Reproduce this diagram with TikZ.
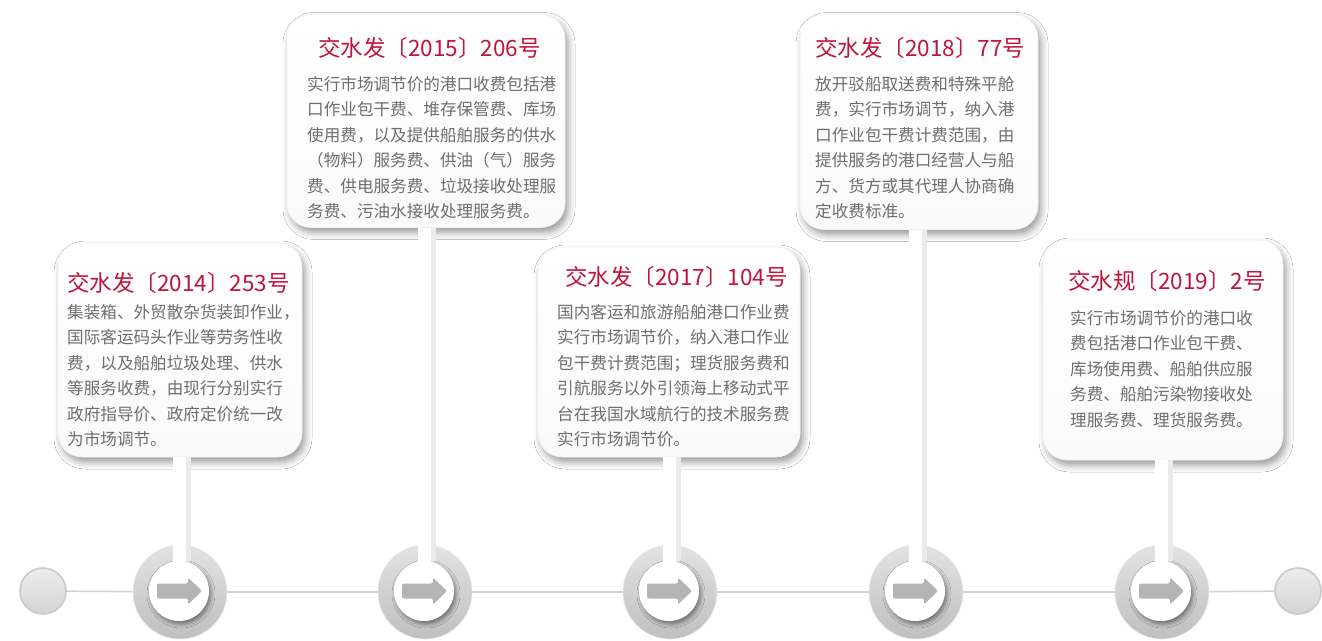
\documentclass[tikz,border=0pt]{standalone}
\usepackage{fontspec}
\setmainfont{Noto Sans CJK SC}
\usetikzlibrary{shadows.blur}
\definecolor{titlered}{HTML}{C0143C}
\definecolor{bodygray}{HTML}{6E6E6E}
\definecolor{arrowgray}{HTML}{B4B4B4}
\tikzset{
  card/.style={rectangle, rounded corners=24pt, top color=white, bottom color=gray!4, draw=gray!10, line width=0.6pt,
    blur shadow={shadow xshift=3pt, shadow yshift=-5pt, shadow blur radius=7pt, shadow opacity=40}},
  ctitle/.style={anchor=west, inner sep=0pt, text=titlered, font=\fontsize{22.5}{26}\selectfont},
  cbody/.style={anchor=north west, inner sep=0pt, align=left, text=bodygray, font=\fontsize{16.6}{25.5}\selectfont},
  ringbig/.style={circle, minimum size=94pt, inner sep=0pt, top color=gray!22, bottom color=gray!50, draw=gray!18, line width=0.6pt},
  ringin/.style={circle, minimum size=60pt, inner sep=0pt, fill=white,
    blur shadow={shadow xshift=2pt, shadow yshift=-3pt, shadow blur radius=4pt, shadow opacity=45}},
  endball/.style={circle, minimum size=46pt, inner sep=0pt, top color=gray!14, bottom color=gray!34, draw=gray!42, line width=1.6pt},
  tline/.style={draw=gray!35, line width=1.5pt},
  stemshadow/.style={draw=gray!16, line width=17pt},
  stemline/.style={draw=white, line width=13pt},
  arrowshape/.style={fill=arrowgray, rounded corners=2pt}
}
\begin{document}
\begin{tikzpicture}[x=1pt, y=-1pt]
\useasboundingbox (0,0) rectangle (1322,640);
\fill[white] (0,0) rectangle (1322,640);

% cards
\node[card, minimum width=244pt, minimum height=214pt] (c1) at (180,350) {};
\node[card, minimum width=278pt, minimum height=213pt] (c2) at (426,121) {};
\node[card, minimum width=262pt, minimum height=210pt] (c3) at (669,352) {};
\node[card, minimum width=238pt, minimum height=215pt] (c4) at (919,122) {};
\node[card, minimum width=240pt, minimum height=220pt] (c5) at (1163,350) {};

% titles
\node[ctitle] (t1) at (67,283) {交水发〔2014〕253号};
\node[ctitle] (t2) at (318,48) {交水发〔2015〕206号};
\node[ctitle] (t3) at (565,277) {交水发〔2017〕104号};
\node[ctitle] (t4) at (815,48) {交水发〔2018〕77号};
\node[ctitle] (t5) at (1068,281) {交水规〔2019〕2号};

% bodies
\node[cbody] (b1) at (67,304) {集装箱、外贸散杂货装卸作业，\\国际客运码头作业等劳务性收\\费，以及船舶垃圾处理、供水\\等服务收费，由现行分别实行\\政府指导价、政府定价统一改\\为市场调节。};
\node[cbody] (b2) at (307,76) {实行市场调节价的港口收费包括港\\口作业包干费、堆存保管费、库场\\使用费，以及提供船舶服务的供水\\（物料）服务费、供油（气）服务\\费、供电服务费、垃圾接收处理服\\务费、污油水接收处理服务费。};
\node[cbody] (b3) at (557,304) {国内客运和旅游船舶港口作业费\\实行市场调节价，纳入港口作业\\包干费计费范围；理货服务费和\\引航服务以外引领海上移动式平\\台在我国水域航行的技术服务费\\实行市场调节价。};
\node[cbody] (b4) at (815,76) {放开驳船取送费和特殊平舱\\费，实行市场调节，纳入港\\口作业包干费计费范围，由\\提供服务的港口经营人与船\\方、货方或其代理人协商确\\定收费标准。};
\node[cbody] (b5) at (1070,310) {实行市场调节价的港口收\\费包括港口作业包干费、\\库场使用费、船舶供应服\\务费、船舶污染物接收处\\理服务费、理货服务费。};

% timeline nodes
\node[endball] (s0) at (43,591) {};
\node[endball] (s6) at (1298,591) {};
\foreach \i/\x in {1/180,2/425,3/670,4/916,5/1162}{
  \node[ringbig] (r\i) at (\x,592) {};
  \node[ringin] (i\i) at (\x-1,591) {};
}

% timeline connectors
\draw[tline] (s0) -- (r1);
\draw[tline] (r1) -- (r2);
\draw[tline] (r2) -- (r3);
\draw[tline] (r3) -- (r4);
\draw[tline] (r4) -- (r5);
\draw[tline] (r5) -- (s6);

% stems
\foreach \i in {1,...,5}{
  \draw[stemshadow] ([xshift=3pt]c\i.south -| i\i) -- ([xshift=3pt]i\i.north);
  \draw[stemline] (c\i.south -| i\i) -- (i\i.center);
}

% arrows
\foreach \i in {1,...,5}{
  \begin{scope}[shift={(i\i.center)}]
    \fill[arrowshape] (-22,-7.5) -- (9,-7.5) -- (9,-13.5) -- (23,0) -- (9,13.5) -- (9,7.5) -- (-22,7.5) -- cycle;
  \end{scope}
}
\end{tikzpicture}
\end{document}
